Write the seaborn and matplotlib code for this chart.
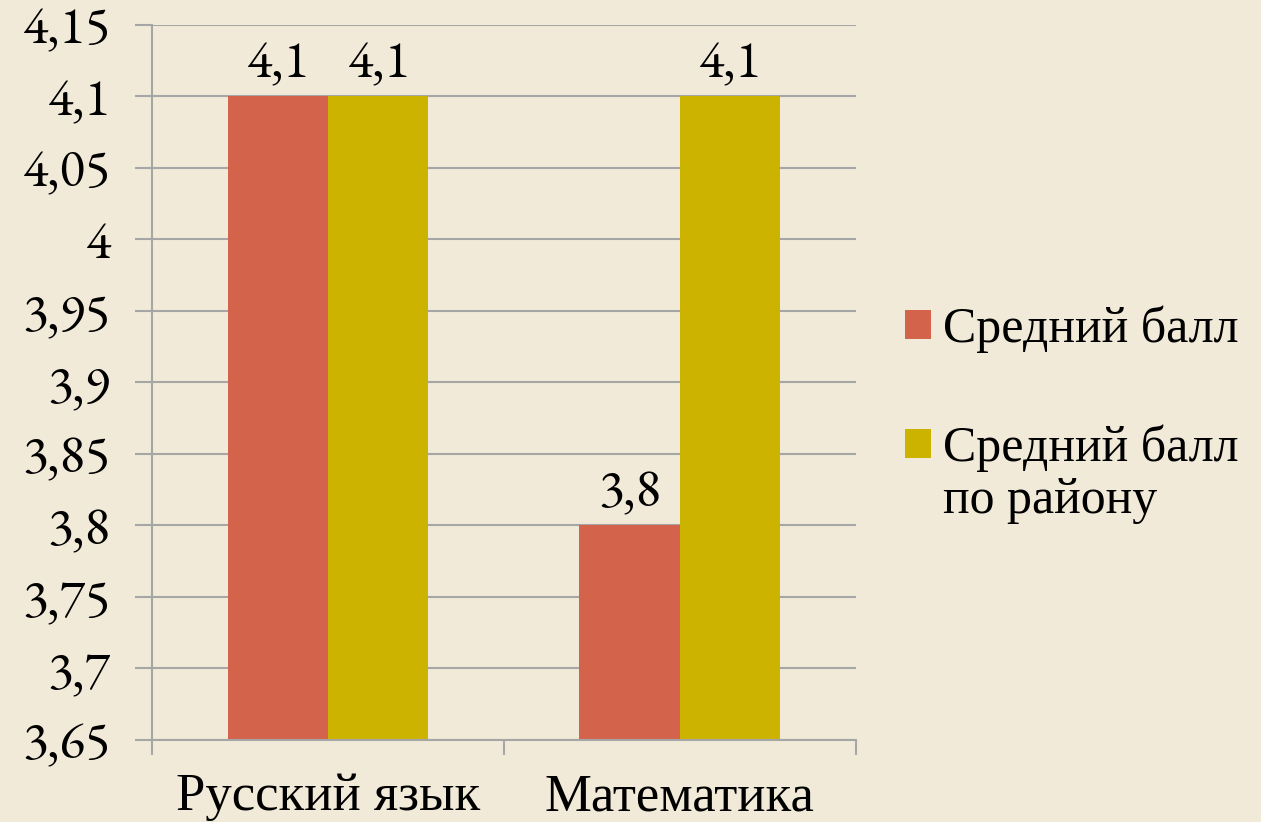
import pandas as pd
import seaborn as sns
import matplotlib.pyplot as plt
from matplotlib.ticker import FixedLocator

# данные
subjects = ['Русский язык', 'Математика']
series = ['Средний балл', 'Средний балл\nпо району']
school_avg = [4.1, 3.8]
district_avg = [4.1, 4.1]
y_ticks = [3.65, 3.7, 3.75, 3.8, 3.85, 3.9, 3.95, 4.0, 4.05, 4.1, 4.15]

df = pd.DataFrame({
    'Предмет': subjects * 2,
    'Серия': [series[0]] * 2 + [series[1]] * 2,
    'Балл': school_avg + district_avg,
})

sns.set_style('white')
plt.rcParams['font.family'] = ['Liberation Serif', 'DejaVu Serif']
plt.rcParams['text.color'] = 'black'
plt.rcParams['xtick.color'] = '#a6a6a6'
plt.rcParams['ytick.color'] = '#a6a6a6'
plt.rcParams['xtick.labelcolor'] = 'black'
plt.rcParams['ytick.labelcolor'] = 'black'
num_font = ['EB Garamond', 'Liberation Serif']  # цифры старого стиля

bg = '#f1ead8'
fig = plt.figure(figsize=(12.61, 8.22), dpi=100, facecolor=bg)
ax = fig.add_axes([0.1205, 0.0998, 0.558, 0.8698])
ax.set_facecolor(bg)

sns.barplot(data=df, x='Предмет', y='Балл', hue='Серия', hue_order=series,
            order=subjects, palette=['#d3634a', '#ccb300'], width=0.57,
            saturation=1, linewidth=0, edgecolor='none', ax=ax)

# подписи значений
for cont in ax.containers:
    ax.bar_label(cont, labels=[f'{v:g}'.replace('.', ',') for v in cont.datavalues],
                 padding=3, fontsize=38, color='black', family=num_font)

ax.set_ylim(3.65, 4.15)
ax.set_yticks(y_ticks)
ax.set_yticklabels([f'{v:g}'.replace('.', ',') for v in y_ticks], fontsize=38,
                   family=num_font)
ax.grid(axis='y', color='#a6a6a6', linewidth=1.5)
ax.set_axisbelow(True)
ax.tick_params(axis='y', left=True, length=12, width=1.5, pad=18)

ax.set_xlim(-0.5, 1.5)
ax.tick_params(axis='x', which='major', bottom=False, length=0, labelsize=38, pad=24)
ax.xaxis.set_minor_locator(FixedLocator([-0.5, 0.5, 1.5]))
ax.tick_params(axis='x', which='minor', bottom=True, length=11, width=1.5)
ax.set_xlabel('')
ax.set_ylabel('')

for s in ['top', 'right']:
    ax.spines[s].set_visible(False)
for s in ['left', 'bottom']:
    ax.spines[s].set_color('#a6a6a6')
    ax.spines[s].set_linewidth(1.5)

leg = ax.legend(loc='upper left', bbox_to_anchor=(1.006, 0.67), frameon=False,
                fontsize=36, handlelength=0.52, handleheight=0.52,
                handletextpad=0.25, labelspacing=1.42, borderaxespad=0.5)
for t in leg.get_texts():
    t.set_linespacing(1.15)
# квадрат второй серии — на уровне первой строки
h = leg.legend_handles[1]
h.set_y(h.get_y() + 22)

fig.savefig('out.png', dpi=100, facecolor=bg)
